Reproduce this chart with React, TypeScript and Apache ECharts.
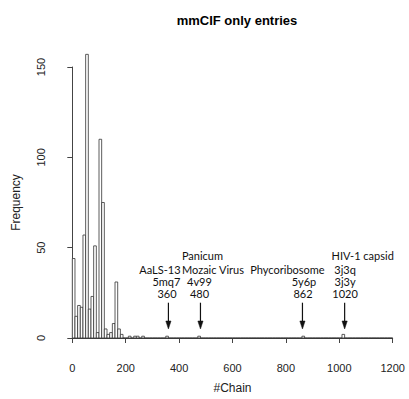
import React, { useEffect, useRef } from "react";
import * as echarts from "echarts";

// Histogram of #Chain, bin width 10, right-closed bins (10k, 10k+10]
const binWidth = 10;
const histUpper = 1200;
// counts for the first bins: (0,10], (10,20], ... (260,270]
const lowBinCounts = [44, 12, 18, 17, 57, 157, 16, 23, 51, 3, 110, 75, 5, 2, 3, 8, 31, 5, 2, 0, 0, 1, 0, 1, 1, 0, 1];
// isolated large entries: bin starts and counts
const outlierBinStarts = [350, 470, 860, 1010];
const outlierCounts = [1, 1, 1, 2];

// annotated entries
const annotationX = [360, 480, 862, 1020];
const annotationLines = [
  ["", "AaLS-13", "5mq7", "360"],
  ["Panicum", "Mozaic Virus", "4v99", "480"],
  ["", "Phycoribosome", "5y6p", "862"],
  ["HIV-1 capsid", "3j3q", "3j3y", "1020"],
];

const xMin = 0;
const xMax = 1200;
const xInterval = 200;
const yMin = 0;
const yMax = 150;
const yInterval = 50;

// layout only (pixel offsets for annotation text rows)
const rowOffsetsY = [-83, -69, -57, -45];
const rowOffsetsX = [
  [0, -8.5, -2, -1.4],
  [2, 12.5, -1, -1],
  [0, -15, 1.5, 0.5],
  [18, 0.4, 0.4, 0.4],
];

function buildBins() {
  const bins: number[][] = [];
  const nBins = histUpper / binWidth;
  for (let k = 0; k < nBins; k++) {
    const start = k * binWidth;
    let c = k < lowBinCounts.length ? lowBinCounts[k] : 0;
    const oi = outlierBinStarts.indexOf(start);
    if (oi >= 0) c = outlierCounts[oi];
    bins.push([start, start + binWidth, c]);
  }
  return bins;
}

export default function App() {
  const ref = useRef<HTMLDivElement>(null);
  useEffect(() => {
    document.body.style.margin = "0";
    const chart = echarts.init(ref.current!, null, { renderer: "svg" });
    const bins = buildBins();
    const axisColor = "#444";
    const textColor = "#222";
    chart.setOption({
      animation: false,
      backgroundColor: "#fff",
      title: {
        text: "mmCIF only entries",
        left: 232,
        top: 9,
        textAlign: "center",
        textStyle: { fontSize: 13, fontWeight: "bold", fontFamily: "Liberation Sans", color: "#000" },
      },
      grid: { left: 72.3, right: 16.3, top: 67, bottom: 57 },
      xAxis: {
        type: "value",
        min: xMin,
        max: xMax,
        interval: xInterval,
        offset: 12,
        axisLine: { show: true, lineStyle: { color: axisColor, width: 1 } },
        axisTick: { show: true, length: 5, lineStyle: { color: axisColor } },
        axisLabel: {
          color: textColor,
          fontSize: 11,
          fontFamily: "Liberation Sans",
          margin: 12,
          formatter: (v: number) => String(v),
        },
        splitLine: { show: false },
        name: "#Chain",
        nameLocation: "middle",
        nameGap: 32,
        nameTextStyle: { color: textColor, fontSize: 12, fontFamily: "Liberation Sans" },
      },
      yAxis: {
        type: "value",
        min: yMin,
        max: yMax,
        interval: yInterval,
        offset: 13,
        axisLine: { show: true, lineStyle: { color: axisColor, width: 1 } },
        axisTick: { show: true, length: 5, lineStyle: { color: axisColor } },
        axisLabel: { color: textColor, fontSize: 11, fontFamily: "Liberation Sans", rotate: 90, margin: 13 },
        splitLine: { show: false },
        name: "Frequency",
        nameLocation: "middle",
        nameGap: 37,
        nameTextStyle: { color: textColor, fontSize: 12, fontFamily: "Liberation Sans" },
      },
      series: [
        {
          type: "custom",
          clip: false,
          data: bins,
          renderItem: (params: any, api: any) => {
            const x0 = api.value(0);
            const x1 = api.value(1);
            const c = api.value(2);
            const p0 = api.coord([x0, 0]);
            const p1 = api.coord([x1, c]);
            return {
              type: "polygon",
              shape: {
                points: [
                  [p0[0], p0[1]],
                  [p0[0], p1[1]],
                  [p1[0], p1[1]],
                  [p1[0], p0[1]],
                ],
              },
              style: { fill: "#fff", stroke: "#333", lineWidth: 0.8 },
            };
          },
        },
        {
          type: "custom",
          clip: false,
          data: annotationX.map((x) => [x]),
          renderItem: (params: any, api: any) => {
            const i = params.dataIndex;
            const x = api.value(0);
            const p = api.coord([x, 0]);
            const px = p[0];
            const base = p[1];
            const tip = base - 9;
            const headTop = tip - 8;
            const top = base - 35.3;
            const children: any[] = [
              {
                type: "line",
                shape: { x1: px, y1: top, x2: px, y2: headTop + 1 },
                style: { stroke: "#111", lineWidth: 1.2 },
              },
              {
                type: "polygon",
                shape: { points: [[px - 2.6, headTop], [px + 2.6, headTop], [px, tip]] },
                style: { fill: "#111", stroke: "#111", lineWidth: 0.5 },
              },
            ];
            annotationLines[i].forEach((t, r) => {
              if (!t) return;
              children.push({
                type: "text",
                x: px + rowOffsetsX[i][r],
                y: base + rowOffsetsY[r],
                style: {
                  text: t,
                  fill: "#111",
                  font: "11px Lato",
                  align: "center",
                  verticalAlign: "middle",
                },
              });
            });
            return { type: "group", children };
          },
        },
      ],
    });
    return () => chart.dispose();
  }, []);
  return <div ref={ref} style={{ position: "fixed", left: 0, top: 0, width: 409, height: 399 }} />;
}
